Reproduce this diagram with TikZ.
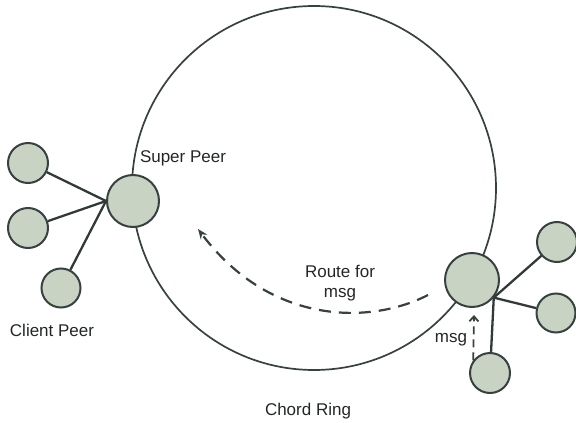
\documentclass[tikz,border=0pt]{standalone}
\usepackage{fontspec}
\setmainfont{Liberation Sans}
\usetikzlibrary{arrows.meta}
\definecolor{peerfill}{RGB}{200, 211, 196}
\definecolor{peerline}{RGB}{55, 65, 63}
\definecolor{labelgray}{RGB}{35, 38, 40}

\begin{document}
\begin{tikzpicture}[x=1pt, y=-1pt, >=Stealth,
    peer/.style={circle, draw=peerline, line width=2pt, fill=peerfill, inner sep=0pt},
    link/.style={draw=peerline!90!black, line width=2.3pt},
    lbl/.style={font=\fontsize{17}{20}\selectfont, text=labelgray, align=center}]
  \useasboundingbox (0, 0) rectangle (576, 423);
  \node[circle, draw=peerline, line width=1.7pt, minimum size=364pt, inner sep=0pt] (ring) at (314, 188) {};

  % left side
  \node[peer, minimum size=52pt] (super) at (133, 201) {};
  \node[peer, minimum size=40pt] (cpa) at (28, 163) {};
  \node[peer, minimum size=40pt] (cpb) at (28, 228) {};
  \node[peer, minimum size=39pt] (cpc) at (61, 288) {};
  \draw[link] (cpa) -- (super.west);
  \draw[link] (cpb) -- (super.west);
  \draw[link] (cpc) -- (super.west);

  % right side
  \node[peer, minimum size=54pt] (rsuper) at (472, 280) {};
  \node[peer, minimum size=40pt] (rpa) at (557, 242) {};
  \node[peer, minimum size=39pt] (rpb) at (556, 313) {};
  \node[peer, minimum size=40pt] (rpc) at (490, 373) {};
  \draw[link] (rsuper.-39) -- (rpa);
  \draw[link] (rsuper.-39) -- (rpb);
  \draw[link] (rsuper.-39) -- (rpc);

  % message route
  \coordinate (routeFrom) at (428, 295);
  \coordinate (routeTo) at (198, 229);
  \draw[peerline, line width=2.2pt, dash pattern=on 12pt off 8pt, -{Stealth[length=10pt, width=8pt]}]
    (routeFrom) .. controls (370, 325) and (270, 325) .. (routeTo);
  \coordinate (msgTo) at (474, 315);
  \draw[peerline, line width=1.8pt, dash pattern=on 8pt off 5pt, -{Straight Barb[length=5pt, width=9pt]}]
    (rpc.143) -- (msgTo);

  \node[lbl] (superlbl) at (183, 158) {Super Peer};
  \node[lbl] (clientlbl) at (52, 330) {Client Peer};
  \node[lbl] (routelbl) at (340, 283) {Route for\\msg};
  \node[lbl] (msglbl) at (451, 340) {msg};
  \node[lbl] (ringlbl) at (308, 411) {Chord Ring};
\end{tikzpicture}
\end{document}
